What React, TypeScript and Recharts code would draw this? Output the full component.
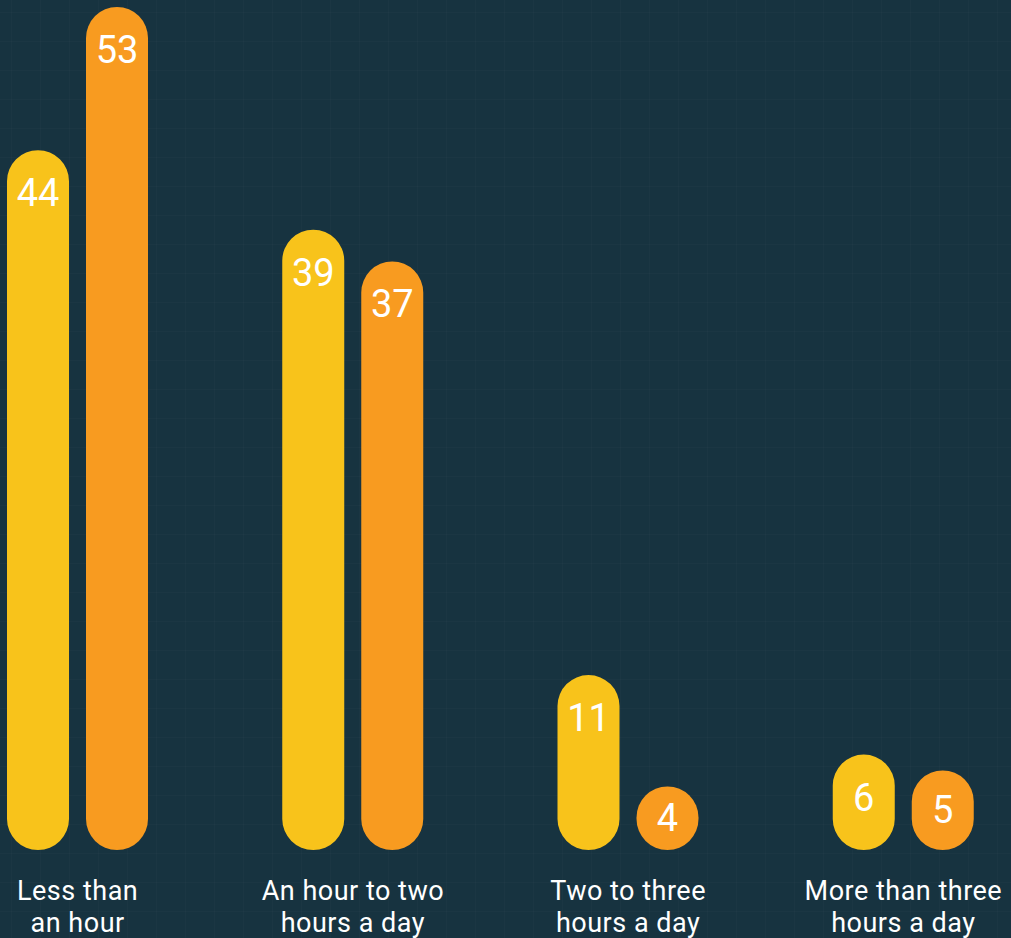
import React from 'react';
import { BarChart, Bar, XAxis, YAxis, LabelList } from 'recharts';

const categories = [
  'Less than an hour',
  'An hour to two hours a day',
  'Two to three hours a day',
  'More than three hours a day',
];
const tickLines: string[][] = [
  ['Less than', 'an hour'],
  ['An hour to two', 'hours a day'],
  ['Two to three', 'hours a day'],
  ['More than three', 'hours a day'],
];
const seriesA = [44, 39, 11, 6];
const seriesB = [53, 37, 4, 5];

const data = categories.map((c, i) => ({ name: c, a: seriesA[i], b: seriesB[i] }));

const FONT = 'Roboto, sans-serif';

const renderValue = (props: any) => {
  const { x, y, width, height, value } = props;
  const cy = y + Math.min(43, height / 2);
  return (
    <text
      x={x + width / 2}
      y={cy}
      textAnchor="middle"
      dominantBaseline="central"
      fill="#ffffff"
      fontSize={38}
      fontFamily={FONT}
      fontWeight={400}
    >
      {value}
    </text>
  );
};

const Tick = (props: any) => {
  const { x, y, payload } = props;
  const lines = tickLines[payload.index] || [String(payload.value)];
  return (
    <g>
      {lines.map((l, i) => (
        <text
          key={i}
          x={x}
          y={y + 50 + i * 32}
          textAnchor="middle"
          fill="#ffffff"
          fontSize={27}
          letterSpacing={0.5}
          fontFamily={FONT}
        >
          {l}
        </text>
      ))}
    </g>
  );
};

export default function App() {
  return (
    <div
      style={{
        position: 'relative',
        width: 1011,
        height: 938,
        overflow: 'hidden',
        backgroundColor: '#173340',
        backgroundImage:
          'linear-gradient(rgba(255,255,255,0.016) 1px, transparent 1px), linear-gradient(90deg, rgba(255,255,255,0.016) 1px, transparent 1px)',
        backgroundSize: '29px 29px',
        backgroundPosition: '11px 12px',
      }}
    >
      <style>{'html,body{margin:0;padding:0;}'}</style>
      <div style={{ position: 'absolute', left: -60, top: 0 }}>
        <BarChart
          width={1101}
          height={938}
          data={data}
          margin={{ top: 7, right: 0, bottom: 0, left: 0 }}
          barSize={62}
          barGap={17}
        >
          <XAxis
            dataKey="name"
            axisLine={false}
            tickLine={false}
            tickSize={0}
            tickMargin={0}
            height={88}
            interval={0}
            tick={<Tick />}
          />
          <YAxis hide domain={[0, 53]} />
          <Bar dataKey="a" fill="#F8C31B" radius={31} isAnimationActive={false}>
            <LabelList dataKey="a" content={renderValue} />
          </Bar>
          <Bar dataKey="b" fill="#F89B20" radius={31} isAnimationActive={false}>
            <LabelList dataKey="b" content={renderValue} />
          </Bar>
        </BarChart>
      </div>
    </div>
  );
}
